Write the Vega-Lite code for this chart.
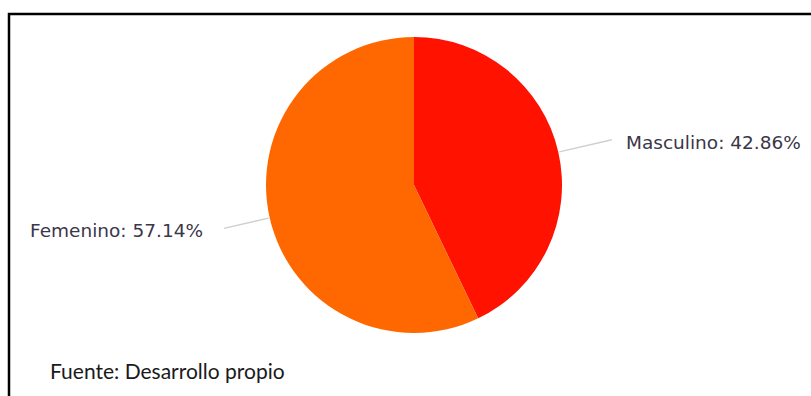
{
  "$schema": "https://vega.github.io/schema/vega-lite/v6.json",
  "autosize": {"type": "fit", "contains": "padding"},
  "width": 811,
  "height": 396,
  "padding": {"left": 9, "top": 14, "right": 0, "bottom": 0},
  "background": "white",
  "view": {"stroke": "#000000", "strokeWidth": 2.5, "strokeDash": [802, 1184, 382], "strokeCap": "square"},
  "title": {
    "text": "Fuente: Desarrollo propio",
    "orient": "bottom",
    "anchor": "start",
    "frame": "group",
    "baseline": "alphabetic",
    "offset": -17,
    "dx": 41,
    "font": "Lato",
    "fontSize": 21,
    "fontWeight": "normal",
    "color": "#1a1a1a"
  },
  "data": {
    "values": [
      {"genero": "Masculino", "porcentaje": 42.86, "etiqueta": "Masculino: 42.86%"},
      {"genero": "Femenino", "porcentaje": 57.14, "etiqueta": "Femenino: 57.14%"}
    ]
  },
  "layer": [
    {
      "transform": [
        {"stack": "porcentaje", "groupby": [], "sort": [{"field": "genero", "order": "descending"}], "as": ["s0", "s1"]},
        {"fold": ["s0", "s1"], "as": ["borde", "angulo"]},
        {"aggregate": [{"op": "mean", "field": "angulo", "as": "medio"}], "groupby": ["genero"]}
      ],
      "mark": {
        "type": "arc",
        "innerRadius": 149,
        "outerRadius": {"expr": "datum.genero === 'Masculino' ? 203 : 195"},
        "xOffset": 4,
        "yOffset": -20,
        "fill": null,
        "stroke": "#cfcfcf",
        "strokeWidth": 1.5
      },
      "encoding": {
        "theta": {"field": "medio", "type": "quantitative", "stack": null, "scale": {"domain": [0, 100]}},
        "theta2": {"field": "medio"}
      }
    },
    {
      "mark": {"type": "arc", "outerRadius": 148, "xOffset": 4, "yOffset": -20},
      "encoding": {
        "theta": {"field": "porcentaje", "type": "quantitative", "stack": true, "scale": {"domain": [0, 100]}},
        "order": {"field": "genero", "sort": "descending"},
        "color": {
          "field": "genero",
          "type": "nominal",
          "scale": {"domain": ["Masculino", "Femenino"], "range": ["#FF1200", "#FF6800"]},
          "legend": null
        }
      }
    },
    {
      "mark": {
        "type": "text",
        "radius": 180,
        "align": {"expr": "datum.genero === 'Masculino' ? 'left' : 'right'"},
        "baseline": "middle",
        "dx": {"expr": "datum.genero === 'Masculino' ? 40.5 : -31.5"},
        "dy": {"expr": "datum.genero === 'Masculino' ? -22 : -14"},
        "font": "DejaVu Sans",
        "fontSize": 18.5,
        "color": "#3b3648"
      },
      "encoding": {
        "theta": {"field": "porcentaje", "type": "quantitative", "stack": true, "scale": {"domain": [0, 100]}},
        "order": {"field": "genero", "sort": "descending"},
        "detail": {"field": "genero", "type": "nominal"},
        "text": {"field": "etiqueta", "type": "nominal"}
      }
    }
  ]
}
